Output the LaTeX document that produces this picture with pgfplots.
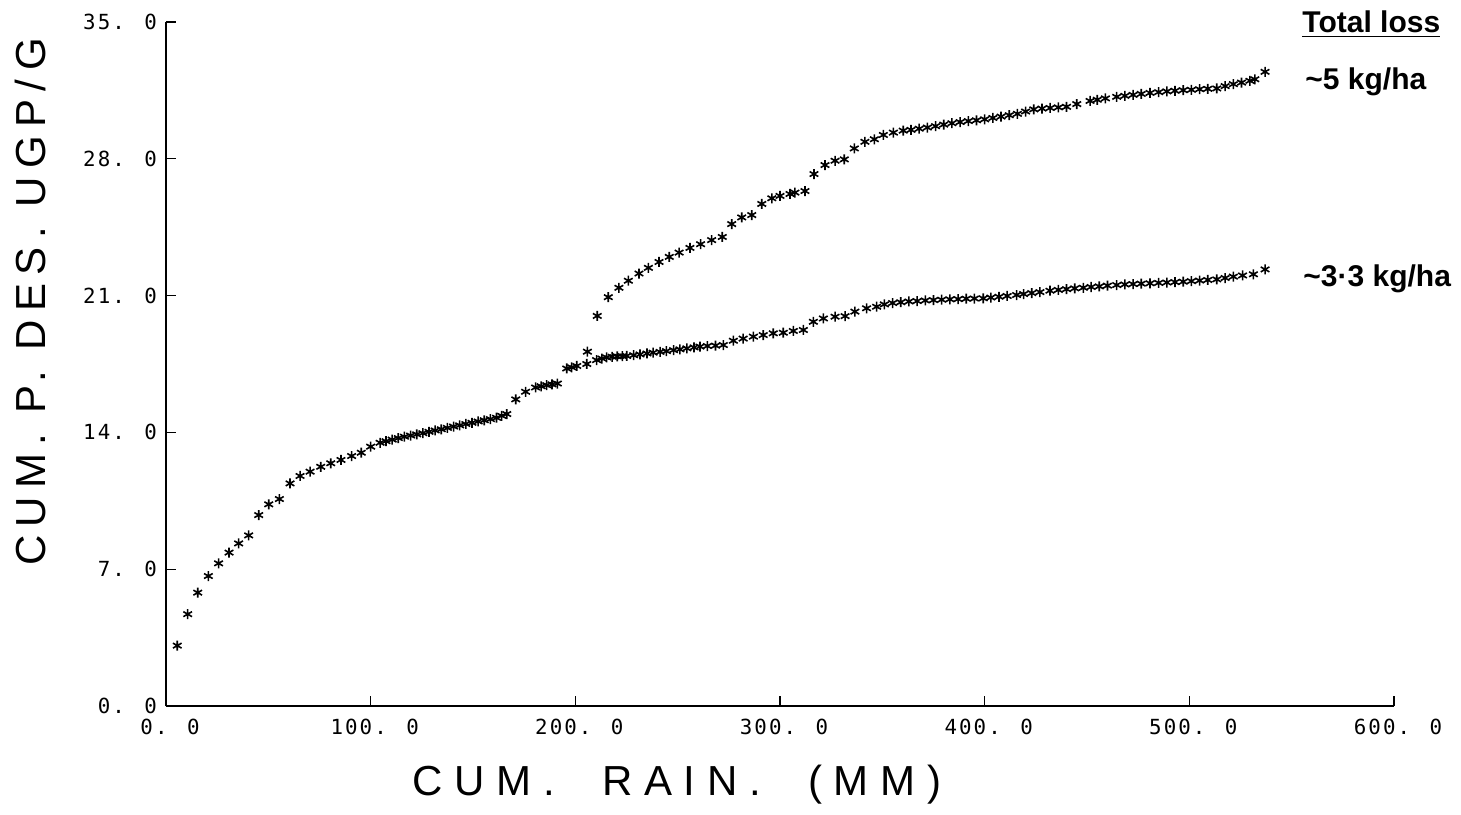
\documentclass[border=0pt]{standalone}
\usepackage{pgfplots}
\usepackage{pgfplotstable}
\pgfplotsset{compat=1.18}
\usepackage{fontspec}
\setmainfont{Liberation Sans}
\newfontfamily\monof[LetterSpace=10]{DejaVu Sans Mono}
\newfontfamily\xlabf[LetterSpace=28]{Liberation Sans}
\newfontfamily\ylabf[LetterSpace=20]{Liberation Sans}

% shared early part (both soils)
\pgfplotstableread{
x y
5.5 3.09
10.6 4.7
15.5 5.8
20.7 6.65
25.7 7.3
30.8 7.85
35.5 8.32
40.4 8.73
45.3 9.77
50.2 10.32
55.4 10.59
60.6 11.39
65.5 11.77
70.4 11.99
75.6 12.24
80.5 12.42
85.5 12.59
90.7 12.79
95.4 12.96
100.0 13.27
104.6 13.47
107.5 13.55
110.5 13.63
113.5 13.71
116.5 13.78
119.5 13.84
122.5 13.9
125.5 13.96
128.5 14.03
131.5 14.1
134.5 14.16
137.5 14.23
140.5 14.3
143.5 14.36
146.5 14.43
149.5 14.49
152.5 14.56
155.5 14.62
158.5 14.68
161.5 14.75
164 14.85
166.5 14.94
170.9 15.69
175.7 16.08
180.6 16.3
183.3 16.36
186 16.42
188.6 16.46
191.2 16.5
195.8 17.27
198.2 17.33
200.7 17.4
}\commontab

% lower series (~3.3 kg/ha)
\pgfplotstableread{
x y
205.6 17.5
210.4 17.7
213 17.78
215.3 17.84
218 17.87
220.5 17.89
223 17.9
225.1 17.91
228.5 17.95
231.6 17.99
235 18.04
238 18.08
241.4 18.12
244.5 18.16
248 18.21
251.1 18.25
254.5 18.3
258 18.35
260.9 18.39
264.5 18.42
268.5 18.44
272.3 18.47
277.2 18.69
282 18.8
287 18.9
291.8 18.98
296.7 19.07
301.6 19.1
306.5 19.19
311.4 19.24
316.3 19.66
321.2 19.83
326.9 19.92
331.8 19.95
336.6 20.18
342.3 20.35
347.2 20.43
351 20.55
355 20.62
359 20.66
363 20.7
367 20.72
371 20.75
375 20.77
379 20.79
383 20.81
387 20.82
391 20.84
395 20.85
399.3 20.86
403 20.9
407 20.94
411 20.98
415.6 21.03
419 21.08
423 21.13
427 21.18
431.9 21.25
436 21.29
440 21.33
444 21.37
448.2 21.4
452 21.44
456 21.47
460 21.51
464.5 21.54
468.5 21.57
472.5 21.59
476.5 21.61
480.8 21.63
485 21.65
489 21.67
493 21.69
497 21.71
501 21.74
505 21.77
509 21.8
513.4 21.83
517.5 21.9
521.5 21.97
526 22.03
531.3 22.09
537 22.34
}\lowtab

% upper series (~5 kg/ha)
\pgfplotstableread{
x y
205.9 18.13
210.7 19.96
216.1 20.92
221.3 21.4
225.9 21.76
231.1 22.13
235.7 22.42
240.9 22.72
245.9 22.98
250.7 23.2
256 23.44
261.2 23.63
266.6 23.84
271.8 24.0
276.4 24.66
281.3 25.0
286.2 25.12
291.1 25.69
296 25.98
300 26.1
304.9 26.2
307.3 26.27
312.2 26.35
316.6 27.22
322 27.68
326.9 27.9
331.4 27.97
336.3 28.53
341.5 28.87
346.1 29.0
350.5 29.22
355.4 29.34
360.2 29.44
364 29.48
368 29.54
372 29.6
376 29.67
380 29.75
384 29.82
388 29.88
392 29.93
396 29.97
400 30.02
404 30.09
408 30.16
412 30.23
416 30.3
420 30.42
424 30.53
428 30.57
432 30.6
436 30.63
440 30.66
445 30.8
451.5 30.96
455 31.02
459 31.09
464.5 31.17
468.5 31.22
472.5 31.27
476.5 31.32
480.8 31.37
485 31.41
489 31.45
493 31.48
497 31.51
501 31.53
505 31.56
509 31.58
513.4 31.6
517.5 31.72
521.5 31.82
525.5 31.9
529.6 31.99
532 32.07
537 32.45
}\uptab

\begin{document}
\begin{tikzpicture}
\useasboundingbox (-83pt,-54pt) rectangle (647.5pt,353pt);
\begin{axis}[
  at={(0,0)}, anchor=south west,
  scale only axis,
  width=614pt, height=342pt,
  xmin=0, xmax=600, ymin=0, ymax=35,
  axis x line*=bottom, axis y line*=left,
  axis line style={-, line width=0.8pt, black},
  tick align=inside,
  major tick length=5pt,
  tick style={line width=0.7pt, black},
  xtick={0,100,200,300,400,500,600},
  xticklabels={0. 0,100. 0,200. 0,300. 0,400. 0,500. 0,600. 0},
  ytick={0,7,14,21,28,35},
  yticklabels={0. 0,7. 0,14. 0,21. 0,28. 0,35. 0},
  ticklabel style={font=\monof\fontsize{10.4}{12}\selectfont},
  yticklabel style={xshift=-1pt},
  xticklabel style={yshift=-3pt, xshift=2pt},
  xlabel={CUM.\ \ RAIN.\ \ (MM)},
  ylabel={CUM. P. DES. UGP/G},
  xlabel style={at={(rel axis cs:0.4161,-0.1155)}, anchor=center, font=\xlabf\fontsize{21}{24}\selectfont},
  ylabel style={at={(rel axis cs:-0.1107,0.5906)}, anchor=center, font=\ylabf\fontsize{21}{24}\selectfont},
  clip=false,
]
\addplot[only marks, mark=asterisk, mark size=2.5pt, mark options={line width=0.8pt, black}] table {\commontab};
\addplot[only marks, mark=asterisk, mark size=2.5pt, mark options={line width=0.8pt, black}] table {\lowtab};
\addplot[only marks, mark=asterisk, mark size=2.5pt, mark options={line width=0.8pt, black}] table {\uptab};
\end{axis}
\node[anchor=base west, font=\bfseries\fontsize{15}{18}\selectfont, inner sep=0pt] at (568pt,336.5pt) {\underline{Total loss}};
\node[anchor=base west, font=\bfseries\fontsize{15}{18}\selectfont, inner sep=0pt] at (569.5pt,308pt) {\textasciitilde5 kg/ha};
\node[anchor=base west, font=\bfseries\fontsize{15}{18}\selectfont, inner sep=0pt] at (568.5pt,209.7pt) {\textasciitilde3·3 kg/ha};
\end{tikzpicture}
\end{document}
